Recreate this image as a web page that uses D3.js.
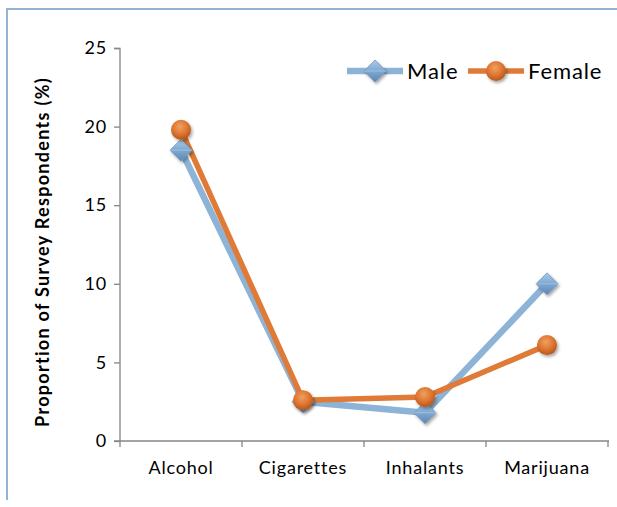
<!DOCTYPE html>
<html>
<head>
<meta charset="utf-8">
<script src="https://cdn.jsdelivr.net/npm/d3@7"></script>
<style>
  html, body { margin: 0; padding: 0; background: #fff; }
  svg { display: block; font-family: "Lato", "DejaVu Sans", sans-serif; }
</style>
</head>
<body>
<svg id="chart" width="617" height="507"></svg>
<script>
const categories = ["Alcohol", "Cigarettes", "Inhalants", "Marijuana"];
const maleValues = [18.5, 2.5, 1.8, 10.0];
const femaleValues = [19.8, 2.6, 2.8, 6.1];
const yTicks = [0, 5, 10, 15, 20, 25];
const seriesNames = ["Male", "Female"];

const svg = d3.select("#chart");
const defs = svg.append("defs");

// marker fills
const gMale = defs.append("linearGradient").attr("id", "gMale")
  .attr("x1", "0").attr("y1", "0").attr("x2", "0").attr("y2", "1");
gMale.append("stop").attr("offset", "0").attr("stop-color", "#a9cbe8");
gMale.append("stop").attr("offset", "0.5").attr("stop-color", "#7fa9d1");
gMale.append("stop").attr("offset", "1").attr("stop-color", "#5b86b3");

const gFem = defs.append("radialGradient").attr("id", "gFem")
  .attr("cx", "0.45").attr("cy", "0.35").attr("r", "0.65");
gFem.append("stop").attr("offset", "0").attr("stop-color", "#f0a060");
gFem.append("stop").attr("offset", "0.6").attr("stop-color", "#dc7430");
gFem.append("stop").attr("offset", "1").attr("stop-color", "#b5561c");

const shadow = defs.append("filter").attr("id", "shadow")
  .attr("x", "-50%").attr("y", "-50%").attr("width", "200%").attr("height", "200%");
shadow.append("feDropShadow").attr("dx", 1.5).attr("dy", 2).attr("stdDeviation", 1.5)
  .attr("flood-color", "#000").attr("flood-opacity", 0.35);

// frame
svg.append("line").attr("x1", 7).attr("y1", 9).attr("x2", 617).attr("y2", 9)
  .attr("stroke", "#93b3d5").attr("stroke-width", 2);
svg.append("line").attr("x1", 7).attr("y1", 8).attr("x2", 7).attr("y2", 500)
  .attr("stroke", "#93b3d5").attr("stroke-width", 2);

const x = d3.scaleBand().domain(categories).range([120, 608]);
const y = d3.scaleLinear().domain([0, 25]).range([441, 48]);

const labelFont = "Lato, 'DejaVu Sans', sans-serif";

// y axis
const yAxis = svg.append("g").attr("transform", "translate(120,0)")
  .call(d3.axisLeft(y).tickValues(yTicks).tickSize(6).tickPadding(7).tickFormat(d3.format("d")));
yAxis.select(".domain").attr("stroke", "#868686").attr("stroke-width", 1.3).attr("d", "M-6,48.5H0V441");
yAxis.selectAll(".tick line").attr("stroke", "#868686").attr("stroke-width", 1.3);
yAxis.selectAll(".tick text").attr("font-size", 18).attr("fill", "#000")
  .attr("font-family", labelFont).attr("letter-spacing", 0.8);

// x axis
const xAxis = svg.append("g").attr("transform", "translate(0,441)")
  .call(d3.axisBottom(x).tickSize(0).tickPadding(20));
xAxis.select(".domain").remove();
xAxis.append("line").attr("x1", 114).attr("x2", 609).attr("y1", 0).attr("y2", 0)
  .attr("stroke", "#868686").attr("stroke-width", 1.3);
const bounds = [120].concat(categories.map(c => x(c) + x.bandwidth()));
xAxis.selectAll(".bt").data(bounds).enter().append("line")
  .attr("x1", d => d).attr("x2", d => d).attr("y1", 0).attr("y2", 6)
  .attr("stroke", "#868686").attr("stroke-width", 1.3);
xAxis.selectAll(".tick text").attr("font-size", 18).attr("fill", "#000")
  .attr("font-family", labelFont).attr("letter-spacing", 0.8);

// y title
svg.append("text")
  .attr("transform", "translate(49,252) rotate(-90)")
  .attr("text-anchor", "middle")
  .attr("font-size", 18).attr("font-weight", "bold").attr("fill", "#000")
  .attr("letter-spacing", 1.3)
  .text("Proportion of Survey Respondents (%)");

const cx = c => x(c) + x.bandwidth() / 2;
const line = d3.line().x((d, i) => cx(categories[i])).y(d => y(d));

const series = [
  { name: seriesNames[0], values: maleValues, color: "#8db3d6", width: 6.5, marker: "diamond" },
  { name: seriesNames[1], values: femaleValues, color: "#e07a37", width: 5.5, marker: "circle" }
];

function drawMarker(g, type, px, py) {
  if (type === "diamond") {
    g.append("path")
      .attr("d", `M${px},${py - 11}L${px + 11},${py}L${px},${py + 11}L${px - 11},${py}Z`)
      .attr("fill", "url(#gMale)").attr("stroke", "#6e97c0").attr("stroke-width", 0.8)
      .attr("filter", "url(#shadow)");
    g.append("path")
      .attr("d", `M${px - 11},${py}L${px + 11},${py}`)
      .attr("stroke", "#c7def1").attr("stroke-width", 0.7).attr("opacity", 0.6);
  } else {
    g.append("circle").attr("cx", px).attr("cy", py).attr("r", 10)
      .attr("fill", "url(#gFem)").attr("filter", "url(#shadow)");
  }
}

series.forEach(s => {
  svg.append("path").datum(s.values).attr("d", line)
    .attr("fill", "none").attr("stroke", s.color).attr("stroke-width", s.width)
    .attr("stroke-linejoin", "round");
});
series.forEach(s => {
  const g = svg.append("g");
  s.values.forEach((v, i) => drawMarker(g, s.marker, cx(categories[i]), y(v)));
});

// legend
const legendY = 71;
const legendItems = [
  { s: series[0], x0: 347 },
  { s: series[1], x0: 468 }
];
legendItems.forEach(it => {
  const g = svg.append("g");
  g.append("line").attr("x1", it.x0).attr("x2", it.x0 + 56).attr("y1", legendY).attr("y2", legendY)
    .attr("stroke", it.s.color).attr("stroke-width", it.s.width);
  drawMarker(g, it.s.marker, it.x0 + 28, legendY);
  g.append("text").attr("x", it.x0 + 60).attr("y", legendY + 8)
    .attr("font-size", 22).attr("fill", "#000").attr("letter-spacing", 0.9).text(it.s.name);
});
</script>
</body>
</html>
